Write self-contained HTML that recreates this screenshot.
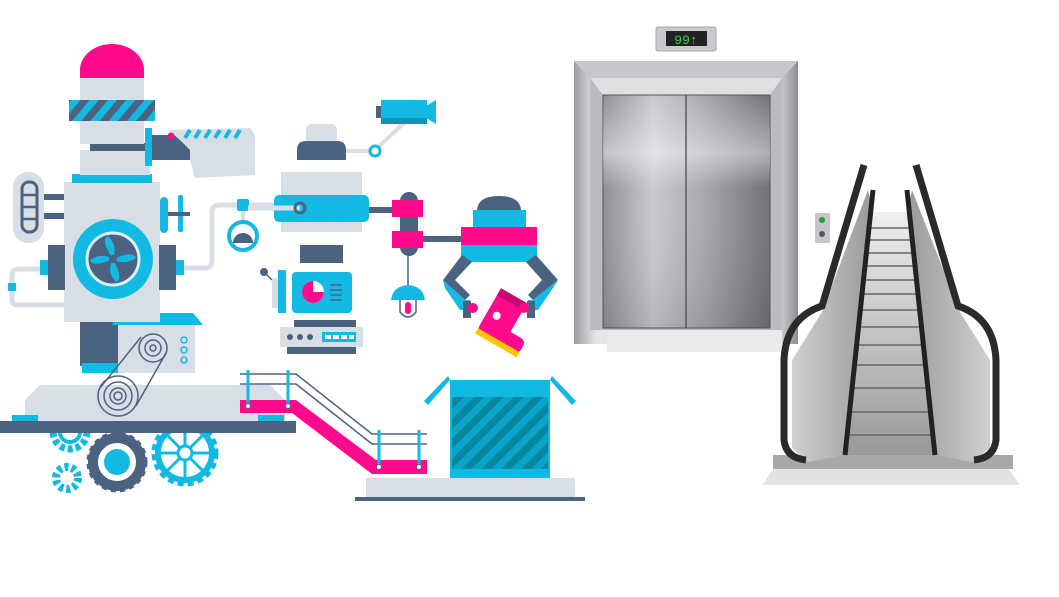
<!DOCTYPE html>
<html><head><meta charset="utf-8"><style>html,body{margin:0;padding:0;background:#fff}svg{display:block}</style></head><body>
<svg width="1059" height="597" viewBox="0 0 1059 597" xmlns="http://www.w3.org/2000/svg">
<defs>
<linearGradient id="door" x1="0" x2="1"><stop offset="0" stop-color="#8e9096"/><stop offset=".3" stop-color="#c9cbd0"/><stop offset=".6" stop-color="#a7a9ae"/><stop offset="1" stop-color="#6f7177"/></linearGradient>
<linearGradient id="doorv" x1="0" y1="0" x2="0" y2="1"><stop offset="0" stop-color="#fff" stop-opacity="0"/><stop offset=".25" stop-color="#fff" stop-opacity=".45"/><stop offset=".4" stop-color="#fff" stop-opacity="0"/><stop offset="1" stop-color="#000" stop-opacity=".1"/></linearGradient>
<linearGradient id="frame" x1="0" x2="1"><stop offset="0" stop-color="#9a9ca1"/><stop offset=".1" stop-color="#e6e7ea"/><stop offset=".9" stop-color="#dcdde0"/><stop offset="1" stop-color="#8c8e93"/></linearGradient>
<linearGradient id="step" x1="0" y1="0" x2="0" y2="1"><stop offset="0" stop-color="#eee"/><stop offset="1" stop-color="#999"/></linearGradient>
<linearGradient id="panel" x1="0" x2="1"><stop offset="0" stop-color="#d0d0d0"/><stop offset="1" stop-color="#9a9a9a"/></linearGradient>
<linearGradient id="panelr" x1="1" x2="0"><stop offset="0" stop-color="#d0d0d0"/><stop offset="1" stop-color="#9a9a9a"/></linearGradient>
<pattern id="stripes" width="14" height="14" patternUnits="userSpaceOnUse" patternTransform="rotate(45)"><rect width="14" height="14" fill="#0aa4c9"/><rect width="7" height="14" fill="#07869f"/></pattern>
<pattern id="band" width="14" height="14" patternUnits="userSpaceOnUse" patternTransform="rotate(40)"><rect width="14" height="14" fill="#12b9e2"/><rect width="7" height="14" fill="#4b6280"/></pattern>
</defs>
<rect width="1059" height="597" fill="#fff"/>

<!-- ===== MACHINE LEFT ===== -->
<g>
<circle cx="70" cy="432" r="17" fill="none" stroke="#12b9e2" stroke-width="7" stroke-dasharray="5 3"/>
<circle cx="70" cy="432" r="10" fill="none" stroke="#12b9e2" stroke-width="4"/>
<circle cx="117" cy="462" r="24" fill="none" stroke="#4b6280" stroke-width="10"/>
<circle cx="117" cy="462" r="28" fill="none" stroke="#4b6280" stroke-width="5" stroke-dasharray="5 4"/>
<circle cx="117" cy="462" r="13" fill="#12b9e2"/>
<circle cx="185" cy="453" r="27" fill="none" stroke="#12b9e2" stroke-width="6"/>
<circle cx="185" cy="453" r="31" fill="none" stroke="#12b9e2" stroke-width="5" stroke-dasharray="6 4"/>
<g stroke="#12b9e2" stroke-width="3"><line x1="160" y1="453" x2="210" y2="453"/><line x1="185" y1="428" x2="185" y2="478"/><line x1="167" y1="435" x2="203" y2="471"/><line x1="203" y1="435" x2="167" y2="471"/></g>
<circle cx="185" cy="453" r="7" fill="#fff" stroke="#12b9e2" stroke-width="3"/>
<circle cx="67" cy="478" r="11" fill="none" stroke="#12b9e2" stroke-width="8" stroke-dasharray="4 3"/>
<circle cx="67" cy="478" r="4" fill="#fff"/>
<polygon points="25,400 40,385 270,385 285,400 285,421 25,421" fill="#d8dee6"/>
<rect x="12" y="415" width="26" height="7" fill="#12b9e2"/>
<rect x="258" y="415" width="26" height="7" fill="#12b9e2"/>
<rect x="0" y="421" width="296" height="12" fill="#4b6280"/>
<rect x="80" y="322" width="40" height="44" fill="#4b6280"/>
<rect x="82" y="363" width="38" height="10" fill="#12b9e2"/>
<rect x="118" y="325" width="77" height="48" fill="#d8dee6"/>
<polygon points="112,325 118,313 193,313 203,325" fill="#12b9e2"/>
<g fill="none" stroke="#12b9e2" stroke-width="1.5"><circle cx="184" cy="340" r="3"/><circle cx="184" cy="350" r="3"/><circle cx="184" cy="360" r="3"/></g>
<g fill="none" stroke="#4b6280" stroke-width="1.5">
<circle cx="153" cy="348" r="14"/><circle cx="153" cy="348" r="8"/><circle cx="153" cy="348" r="3"/>
<circle cx="118" cy="396" r="20"/><circle cx="118" cy="396" r="14"/><circle cx="118" cy="396" r="8"/><circle cx="118" cy="396" r="4"/>
<line x1="100" y1="388" x2="141" y2="337"/><line x1="136" y1="406" x2="166" y2="353"/>
</g>
<rect x="64" y="182" width="96" height="140" fill="#d8dee6"/>
<rect x="72" y="174" width="80" height="9" fill="#12b9e2"/>
<rect x="80" y="150" width="70" height="25" fill="#d8dee6"/>
<rect x="90" y="143" width="60" height="8" fill="#4b6280"/>
<rect x="80" y="121" width="64" height="23" fill="#d8dee6"/>
<rect x="69" y="100" width="86" height="21" fill="url(#band)"/>
<rect x="80" y="77" width="64" height="23" fill="#d8dee6"/>
<path d="M80 78 V70 A32 26 0 0 1 144 70 V78 Z" fill="#ff0a8c"/>
<rect x="48" y="245" width="17" height="45" fill="#4b6280"/>
<rect x="159" y="245" width="17" height="45" fill="#4b6280"/>
<rect x="176" y="260" width="8" height="15" fill="#12b9e2"/>
<rect x="40" y="260" width="8" height="15" fill="#12b9e2"/>
<circle cx="113" cy="259" r="40" fill="#12b9e2"/>
<circle cx="113" cy="259" r="26" fill="#4b6280" stroke="#d8f2fa" stroke-width="3"/>
<g fill="#12b9e2"><path d="M113 259 Q100 240 108 236 Q118 245 113 259"/><path d="M113 259 Q134 250 136 258 Q124 266 113 259"/><path d="M113 259 Q124 280 116 282 Q106 272 113 259"/><path d="M113 259 Q92 268 90 260 Q102 252 113 259"/></g>
<circle cx="113" cy="259" r="4" fill="#4b6280"/>
<rect x="13" y="172" width="31" height="71" rx="15" fill="#d8dee6"/>
<rect x="22" y="182" width="15" height="50" rx="7" fill="none" stroke="#4b6280" stroke-width="3"/>
<g stroke="#4b6280" stroke-width="2.5"><line x1="22" y1="195" x2="37" y2="195"/><line x1="22" y1="207" x2="37" y2="207"/><line x1="22" y1="219" x2="37" y2="219"/></g>
<rect x="44" y="194" width="20" height="6" fill="#4b6280"/>
<rect x="44" y="213" width="20" height="6" fill="#4b6280"/>
<path d="M40 269 H18 Q12 269 12 276 V300 Q12 305 18 305 H64" fill="none" stroke="#d8dee6" stroke-width="5"/>
<rect x="8" y="283" width="8" height="8" fill="#12b9e2"/>
<rect x="145" y="128" width="7" height="38" fill="#12b9e2"/>
<polygon points="152,135 185,135 190,150 190,160 152,160" fill="#4b6280"/>
<polygon points="168,130 250,128 255,135 255,175 195,178 190,160 190,150 180,140" fill="#d8dee6"/>
<g stroke="#12b9e2" stroke-width="4"><line x1="185" y1="138" x2="190" y2="130"/><line x1="195" y1="138" x2="200" y2="130"/><line x1="205" y1="138" x2="210" y2="130"/><line x1="215" y1="138" x2="220" y2="130"/><line x1="225" y1="138" x2="230" y2="130"/><line x1="235" y1="138" x2="240" y2="130"/></g>
<circle cx="171" cy="136" r="3.5" fill="#ff0a8c"/>
<rect x="160" y="197" width="8" height="36" rx="4" fill="#12b9e2"/>
<rect x="178" y="195" width="5" height="37" rx="2" fill="#12b9e2"/>
<rect x="168" y="212" width="22" height="4" fill="#4b6280"/>
<path d="M184 268 H205 Q212 268 212 260 V212 Q212 205 220 205 H275" fill="none" stroke="#d8dee6" stroke-width="5"/>
<rect x="237" y="199" width="12" height="12" rx="2" fill="#12b9e2"/>
<line x1="243" y1="211" x2="243" y2="222" stroke="#d8dee6" stroke-width="4"/>
<circle cx="243" cy="236" r="14" fill="#fff" stroke="#12b9e2" stroke-width="4"/>
<path d="M233 243 A10 10 0 0 1 253 243 Z" fill="#4b6280"/>
<line x1="243" y1="236" x2="243" y2="241" stroke="#4b6280" stroke-width="2"/>
</g>

<!-- ===== MIDDLE ===== -->
<g>
<line x1="375" y1="150" x2="405" y2="122" stroke="#d8dee6" stroke-width="4"/>
<line x1="346" y1="151" x2="372" y2="151" stroke="#d8dee6" stroke-width="4"/>
<circle cx="375" cy="151" r="5" fill="#fff" stroke="#12b9e2" stroke-width="3"/>
<rect x="376" y="106" width="6" height="12" fill="#4b6280"/>
<rect x="381" y="100" width="46" height="24" fill="#12b9e2"/>
<rect x="381" y="118" width="46" height="6" fill="#0a95b8"/>
<polygon points="426,106 436,100 436,124 426,118" fill="#12b9e2"/>
<rect x="306" y="124" width="31" height="20" rx="6" fill="#d8dee6"/>
<path d="M297 160 V150 Q297 141 306 141 H337 Q346 141 346 150 V160 Z" fill="#4b6280"/>
<rect x="281" y="172" width="81" height="60" fill="#d8dee6"/>
<rect x="274" y="195" width="95" height="27" rx="5" fill="#12b9e2"/>
<line x1="248" y1="208" x2="300" y2="208" stroke="#d8dee6" stroke-width="5"/>
<circle cx="300" cy="208" r="5" fill="none" stroke="#4b6280" stroke-width="3"/>
<rect x="369" y="207" width="24" height="6" fill="#4b6280"/>
<rect x="400" y="192" width="18" height="64" rx="9" fill="#4b6280"/>
<rect x="392" y="200" width="31" height="17" fill="#ff0a8c"/>
<rect x="392" y="231" width="31" height="17" fill="#ff0a8c"/>
<rect x="423" y="236" width="40" height="6" fill="#4b6280"/>
<line x1="408" y1="256" x2="408" y2="285" stroke="#4b6280" stroke-width="1.5"/>
<path d="M391 300 Q393 286 408 285 Q423 286 425 300 Z" fill="#12b9e2"/>
<path d="M400 300 V312 Q408 322 416 312 V300" fill="none" stroke="#4b6280" stroke-width="1.5"/>
<rect x="405" y="302" width="6" height="12" rx="3" fill="#ff0a8c"/>
<path d="M477 210 Q478 196 499 196 Q520 196 521 210 Z" fill="#4b6280"/>
<rect x="473" y="210" width="53" height="18" fill="#12b9e2"/>
<rect x="461" y="227" width="76" height="19" fill="#ff0a8c"/>
<rect x="461" y="245" width="76" height="17" fill="#12b9e2"/>
<polygon points="462,255 472,262 455,280 470,295 465,300 443,280" fill="#4b6280"/>
<polygon points="443,280 465,300 470,300 470,310 460,310 445,288" fill="#12b9e2"/>
<polygon points="536,255 526,262 542,280 528,295 533,300 558,280" fill="#4b6280"/>
<polygon points="558,280 533,300 528,300 528,310 538,310 553,288" fill="#12b9e2"/>
<rect x="463" y="301" width="8" height="17" fill="#4b6280"/>
<rect x="527" y="301" width="8" height="17" fill="#4b6280"/>
<g transform="rotate(30 500 320)">
<rect x="485" y="292" width="30" height="40" fill="#ff0a8c"/>
<rect x="485" y="292" width="30" height="8" fill="#c80870"/>
<rect x="485" y="325" width="48" height="16" rx="6" fill="#ff0a8c"/>
<rect x="485" y="338" width="48" height="6" fill="#ffc400"/>
<circle cx="495" cy="318" r="4" fill="#fff"/>
</g>
<circle cx="473" cy="308" r="5" fill="#ff0a8c"/><circle cx="524" cy="308" r="5" fill="#ff0a8c"/>
<rect x="300" y="245" width="43" height="18" fill="#4b6280"/>
<circle cx="264" cy="272" r="4" fill="#4b6280"/>
<line x1="264" y1="272" x2="272" y2="280" stroke="#4b6280" stroke-width="1.5"/>
<rect x="272" y="278" width="6" height="30" fill="#d8dee6"/>
<rect x="278" y="270" width="8" height="43" fill="#12b9e2"/>
<rect x="292" y="272" width="60" height="41" rx="4" fill="#12b9e2"/>
<circle cx="313" cy="292" r="11" fill="#fff"/>
<path d="M313 292 V281 A11 11 0 1 0 324 292 Z" fill="#ff0a8c"/>
<g stroke="#4b6280" stroke-width="1.5"><line x1="330" y1="285" x2="342" y2="285"/><line x1="330" y1="290" x2="342" y2="290"/><line x1="330" y1="295" x2="342" y2="295"/><line x1="330" y1="300" x2="342" y2="300"/></g>
<rect x="294" y="320" width="62" height="7" fill="#4b6280"/>
<rect x="280" y="327" width="83" height="20" fill="#d8dee6"/>
<rect x="287" y="347" width="69" height="7" fill="#4b6280"/>
<g fill="#4b6280"><circle cx="290" cy="337" r="3"/><circle cx="300" cy="337" r="3"/><circle cx="310" cy="337" r="3"/></g>
<rect x="322" y="332" width="34" height="10" fill="#12b9e2"/>
<g fill="#fff"><rect x="325" y="335" width="6" height="4"/><rect x="333" y="335" width="6" height="4"/><rect x="341" y="335" width="6" height="4"/><rect x="349" y="335" width="5" height="4"/></g>
<polygon points="240,400 296,400 376,460 427,460 427,474 372,474 292,413 240,413" fill="#ff0a8c"/>
<g stroke="#4b6280" stroke-width="1.5" fill="none"><polyline points="240,374 296,374 372,434 427,434"/><polyline points="240,384 296,384 372,444 427,444"/></g>
<g stroke="#12b9e2" stroke-width="3"><line x1="248" y1="370" x2="248" y2="406"/><line x1="288" y1="370" x2="288" y2="406"/><line x1="379" y1="430" x2="379" y2="467"/><line x1="419" y1="430" x2="419" y2="467"/></g>
<g fill="#fff" stroke="#4b6280" stroke-width="1"><circle cx="248" cy="406" r="2.5"/><circle cx="288" cy="406" r="2.5"/><circle cx="379" cy="467" r="2.5"/><circle cx="419" cy="467" r="2.5"/></g>
<rect x="450" y="380" width="100" height="98" fill="#12b9e2"/>
<rect x="452" y="397" width="96" height="72" fill="url(#stripes)"/>
<polygon points="450,380 428,405 424,401 448,376" fill="#12b9e2"/>
<polygon points="550,380 572,405 576,401 552,376" fill="#12b9e2"/>
<rect x="366" y="478" width="209" height="19" fill="#d8dee6"/>
<rect x="355" y="497" width="230" height="4" fill="#4b6280"/>
</g>

<!-- ===== ELEVATOR ===== -->
<g>
<rect x="656" y="27" width="60" height="24" rx="2" fill="#c8cacd" stroke="#a4a6aa"/>
<rect x="666" y="31" width="41" height="15" fill="#222"/>
<text x="686" y="44" font-family="Liberation Mono, monospace" font-size="13" fill="#39d44a" text-anchor="middle">99↑</text>
<rect x="574" y="61" width="224" height="283" fill="url(#frame)"/>
<polygon points="574,61 798,61 782,78 590,78" fill="#c5c7cb"/>
<rect x="590" y="78" width="192" height="252" fill="#b9bbbf"/>
<polygon points="590,78 782,78 770,95 603,95" fill="#dfe0e2"/>
<rect x="603" y="95" width="167" height="233" fill="url(#door)" stroke="#555" stroke-width="1"/>
<rect x="603" y="95" width="167" height="233" fill="url(#doorv)"/>
<line x1="686" y1="95" x2="686" y2="328" stroke="#444" stroke-width="1.2"/>
<rect x="607" y="330" width="175" height="22" fill="#e9eaec"/>
<rect x="815" y="213" width="15" height="30" fill="#c4c6c9"/>
<circle cx="822" cy="220" r="3" fill="#2a9a3a"/>
<circle cx="822" cy="234" r="3" fill="#555"/>
</g>

<!-- ===== ESCALATOR ===== -->
<g>
<polygon points="762,485 1020,485 1008,468 774,468" fill="#e2e2e2"/>
<rect x="773" y="455" width="240" height="14" fill="#a8a8a8"/>
<polygon points="873,212 907,212 946,455 838,455" fill="url(#step)"/>
<g stroke="#666" stroke-width="1.5">
<line x1="871" y1="228" x2="910" y2="228"/><line x1="869" y1="240" x2="912" y2="240"/><line x1="867" y1="253" x2="914" y2="253"/><line x1="865" y1="266" x2="916" y2="266"/><line x1="863" y1="280" x2="918" y2="280"/><line x1="861" y1="294" x2="921" y2="294"/><line x1="858" y1="310" x2="923" y2="310"/><line x1="856" y1="327" x2="926" y2="327"/><line x1="853" y1="345" x2="929" y2="345"/><line x1="850" y1="365" x2="932" y2="365"/><line x1="846" y1="388" x2="936" y2="388"/><line x1="843" y1="412" x2="940" y2="412"/><line x1="840" y1="435" x2="944" y2="435"/>
</g>
<!-- left balustrade -->
<polygon points="868,190 873,212 845,455 808,462 792,448 792,360 822,312" fill="url(#panel)"/>
<path d="M864 165 L822 306 Q786 318 784 360 L784 440 Q786 458 806 460" fill="none" stroke="#2a2a2a" stroke-width="7"/>
<path d="M873 190 L845 455" stroke="#222" stroke-width="5" fill="none"/>
<!-- right balustrade -->
<polygon points="912,190 907,212 935,455 972,462 990,448 990,360 960,312" fill="url(#panelr)"/>
<path d="M916 165 L958 306 Q994 318 996 360 L996 440 Q994 458 974 460" fill="none" stroke="#2a2a2a" stroke-width="7"/>
<path d="M907 190 L935 455" stroke="#222" stroke-width="5" fill="none"/>
</g>
</svg>
</body></html>
